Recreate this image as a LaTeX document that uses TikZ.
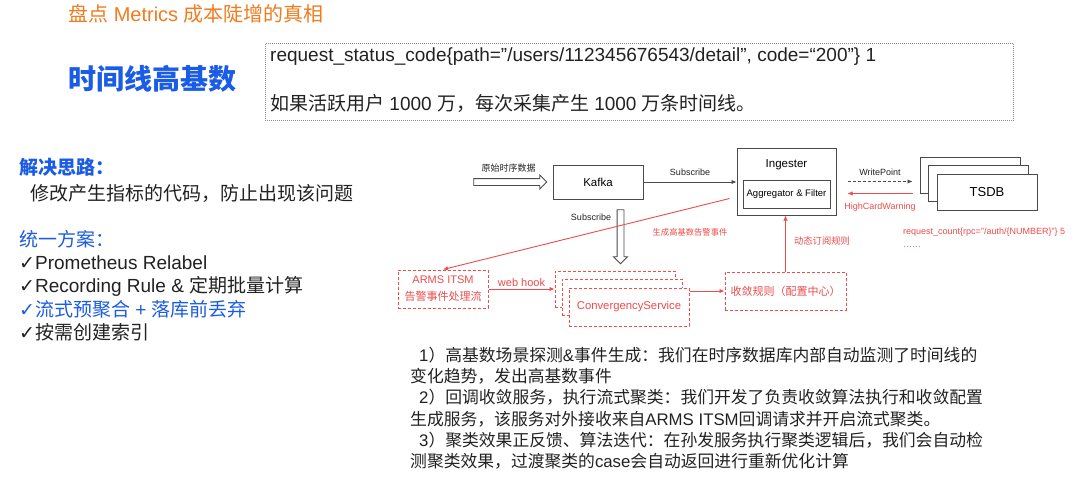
\documentclass[tikz,border=0pt]{standalone}
\usepackage{fontspec}
\setmainfont{Liberation Sans}
\newfontfamily\cjkfont{Noto Sans CJK SC}
\newfontfamily\symfont{DejaVu Sans}
\usetikzlibrary{arrows.meta,positioning,shapes.arrows,calc}
\definecolor{ttlorange}{HTML}{F07C1E}
\definecolor{hiblue}{HTML}{1A5CE6}
\definecolor{alarm}{HTML}{EE4B4B}
\definecolor{ink}{HTML}{222222}
\definecolor{frame}{HTML}{8A8A8A}
\definecolor{boxline}{HTML}{4A4A4A}

% switch to the CJK family around Chinese characters
\XeTeXinterchartokenstate=1
\newXeTeXintercharclass\cjkclass
\newcount\cjkcode
\def\setcjkrange#1#2{\cjkcode=#1\relax
  \loop\XeTeXcharclass\cjkcode=\cjkclass
  \ifnum\cjkcode<#2\relax\advance\cjkcode by 1\repeat}
\setcjkrange{"3000}{"303F}
\setcjkrange{"4E00}{"9FFF}
\setcjkrange{"FF00}{"FFEF}
\XeTeXinterchartoks 0 \cjkclass={\cjkfont}
\XeTeXinterchartoks 4095 \cjkclass={\cjkfont}
\XeTeXinterchartoks \cjkclass 0={\rmfamily}
\XeTeXinterchartoks \cjkclass 4095={\rmfamily}
\newcommand\tick{{\symfont ✓}}

\begin{document}
\begin{tikzpicture}[x=1pt,y=-1pt,>=Latex,font=\fontsize{10}{12}\selectfont,
  box/.style={draw=boxline,line width=1pt,fill=white,inner sep=0pt},
  flow/.style={-{Latex[length=5pt,width=4.5pt]},line width=.9pt,draw=boxline},
  warn/.style={flow,draw=alarm},
  dbox/.style={draw=alarm,line width=1pt,dash pattern=on 3pt off 2pt,fill=white,text=alarm,align=center,inner sep=0pt},
  hollow/.style={single arrow,draw=boxline,line width=.9pt,fill=white,inner sep=3pt,single arrow head extend=3.5pt},
  small/.style={font=\fontsize{9}{11}\selectfont,inner sep=0pt,text=ink},
  redsmall/.style={small,text=alarm},
  lefttxt/.style={anchor=west,inner sep=0pt,text=ink,font=\fontsize{19}{23}\selectfont}]
\useasboundingbox[fill=white] (0,0) rectangle (1080,482);

% headings
\node[anchor=west,inner sep=0pt,text=ttlorange,font=\fontsize{20}{24}\selectfont] (title) at (68,14) {盘点 Metrics 成本陡增的真相};
\node[anchor=west,inner sep=0pt,text=hiblue,font=\bfseries\fontsize{28}{32}\selectfont] (topic) at (68,79) {时间线高基数};
\node[draw=frame,dash pattern=on .7pt off 1.3pt,line width=.7pt,minimum width=748,minimum height=77,anchor=north west] (sample) at (265,43) {};
\node[anchor=west,inner sep=0pt,text=ink,font=\fontsize{19}{23}\selectfont] (sampleA) at (270,57) {request\_status\_code\{path=”/users/112345676543/detail”, code=“200”\} 1};
\node[anchor=west,inner sep=0pt,text=ink,font=\fontsize{19}{23}\selectfont] (sampleB) at (270,103) {如果活跃用户 1000 万，每次采集产生 1000 万条时间线。};

% left column
\node[lefttxt,text=hiblue,font=\bfseries\fontsize{19}{23}\selectfont] (idea) at (19,167) {解决思路：};
\node[lefttxt] (ideatxt) at (30,193) {修改产生指标的代码，防止出现该问题};
\node[lefttxt,text=hiblue] (plan) at (19,239) {统一方案：};
\node[lefttxt] (optA) at (19,263) {\tick Prometheus Relabel};
\node[lefttxt] (optB) at (19,286) {\tick Recording Rule \& 定期批量计算};
\node[lefttxt,text=hiblue] (optC) at (19,309) {\tick 流式预聚合 + 落库前丢弃};
\node[lefttxt] (optD) at (19,332) {\tick 按需创建索引};

% pipeline
\node[hollow,minimum height=73] (rawin) at (508.5,182) {};
\node[small,above=6pt of rawin] (rawlbl) {原始时序数据};
\node[box,minimum width=90,minimum height=34,font=\fontsize{11.5}{13}\selectfont] (kafka) at (598,182) {Kafka};
\node[box,minimum width=99,minimum height=67] (ingester) at (786.5,181.5) {};
\node[inner sep=0pt,font=\fontsize{11.5}{13}\selectfont] (ingtitle) at (786.5,165) {Ingester};
\node[box,minimum width=87,minimum height=28,font=\fontsize{9.5}{11}\selectfont] (aggr) at (786.5,194) {Aggregator \& Filter};
\node[box,minimum width=100,minimum height=36] (tsdbC) at (970,175) {};
\node[box,minimum width=100,minimum height=36] (tsdbB) at (978.5,183.5) {};
\node[box,minimum width=100,minimum height=36,font=\fontsize{13}{15}\selectfont] (tsdb) at (987,192) {TSDB};
\node[hollow,shape border rotate=270,minimum height=54] (subdown) at (620.5,235) {};
\node[small] (sublbl) at (591,217) {Subscribe};

\draw[flow] (kafka.east) -- (kafka.east -| ingester.west) node[small,midway,above=6pt] {Subscribe};
\draw[flow,dash pattern=on 3pt off 2pt] ([xshift=11pt]ingester.east) -- ($(ingester.east -| tsdbC.west)+(-7,0)$) node[small,midway,above=5pt] {WritePoint};
\draw[warn] ($(ingester.east -| tsdbC.west)+(-7,12)$) -- ($(ingester.east)+(11,12)$) node[redsmall,midway,below=9pt] {HighCardWarning};
\node[redsmall,anchor=west] (sampleC) at (903,232) {request\_count\{rpc="/auth/\{NUMBER\}"\} 5};
\node[redsmall,anchor=west] (sampleD) at (903,247) {……};

% convergency loop
\node[dbox,minimum width=90,minimum height=38,font=\fontsize{11}{17}\selectfont] (arms) at (443,289) {ARMS ITSM\\告警事件处理流};
\node[dbox,minimum width=120,minimum height=36] (convA) at (615,289) {};
\node[dbox,minimum width=120,minimum height=36] (convB) at (622,297) {};
\node[dbox,minimum width=120,minimum height=38,font=\fontsize{11.3}{13}\selectfont] (conv) at (629,307) {ConvergencyService};
\node[dbox,minimum width=121,minimum height=38,font=\fontsize{11}{13}\selectfont] (rule) at (785.5,291) {收敛规则（配置中心）};

\coordinate (alarmsrc) at ([xshift=-7pt,yshift=-17pt]ingester.west);
\draw[warn] (alarmsrc) -- (arms.north);
\node[redsmall,font=\fontsize{8.3}{10}\selectfont] (alarmlbl) at (690,232) {生成高基数告警事件};
\draw[warn] (arms.east) -- (arms.east -| convA.west) node[midway,above=2pt,inner sep=0pt,text=alarm,font=\fontsize{11}{13}\selectfont] {web hook};
\draw[warn] (conv.east |- rule.west) -- (rule.west);
\draw[warn] (rule.north) -- (rule.north |- ingester.south);
\node[redsmall,font=\fontsize{9.3}{11}\selectfont] (rulelbl) at (822,241) {动态订阅规则};

% notes
\node[anchor=north west,inner sep=0pt,align=left,text=ink,font=\fontsize{16.8}{21.2}\selectfont] (notes) at (410,347) {%
\hspace*{9pt}1）高基数场景探测\&事件生成：我们在时序数据库内部自动监测了时间线的\\
变化趋势，发出高基数事件\\
\hspace*{9pt}2）回调收敛服务，执行流式聚类：我们开发了负责收敛算法执行和收敛配置\\
生成服务，该服务对外接收来自ARMS ITSM回调请求并开启流式聚类。\\
\hspace*{9pt}3）聚类效果正反馈、算法迭代：在孙发服务执行聚类逻辑后，我们会自动检\\
测聚类效果，过渡聚类的case会自动返回进行重新优化计算};
\end{tikzpicture}
\end{document}
